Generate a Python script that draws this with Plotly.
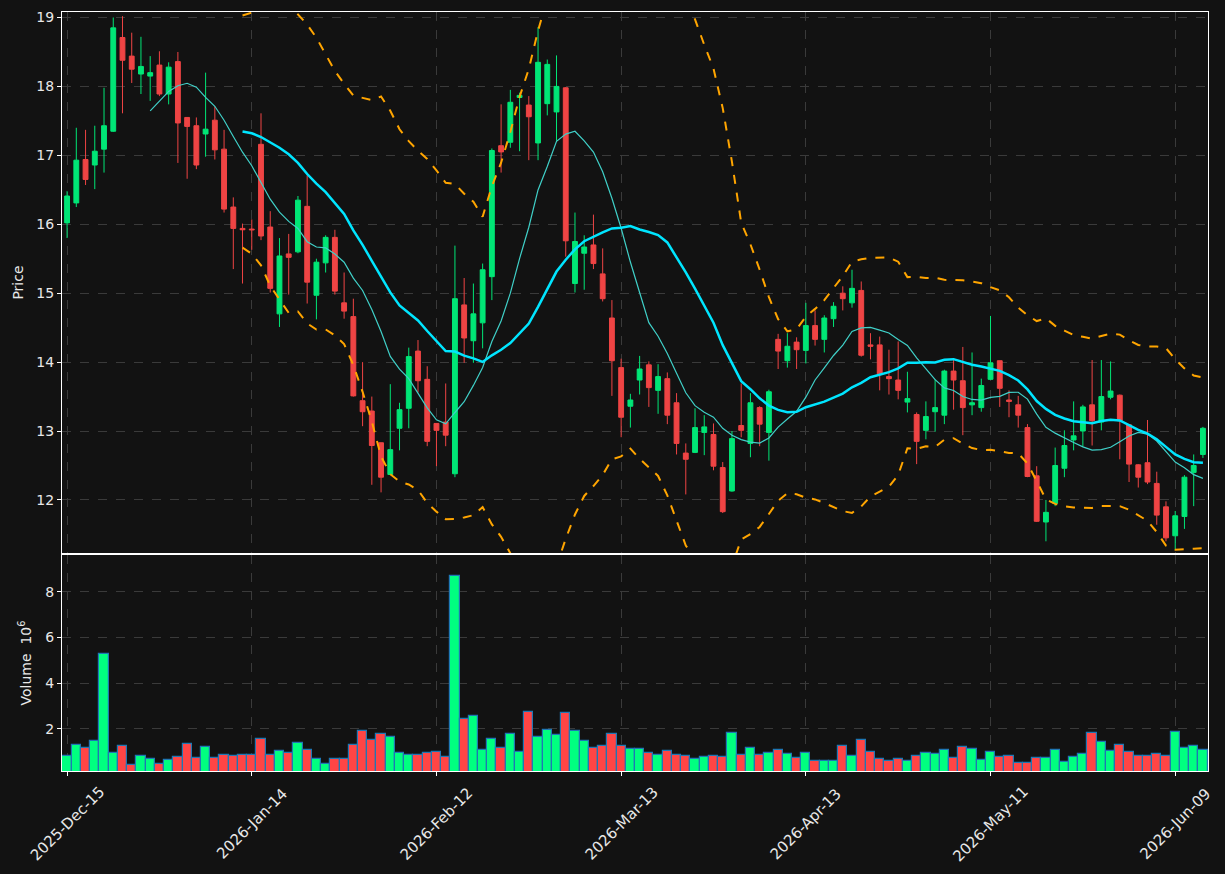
import pandas as pd
import plotly.graph_objects as go

holidays = ["2025-12-25", "2026-01-01", "2026-01-19", "2026-02-16", "2026-04-03", "2026-05-25"]
cbd = pd.offsets.CustomBusinessDay(holidays=holidays)
dates = pd.date_range(start="2025-12-15", periods=124, freq=cbd)
date_labels = [d.strftime("%Y-%m-%d") for d in dates]

opens = [16.02, 16.31, 16.94, 16.86, 17.09, 17.35, 18.71, 18.44, 18.18, 18.15,
         18.31, 17.89, 18.36, 17.55, 17.43, 17.31, 17.51, 17.09, 16.25, 15.94,
         15.93, 17.16, 15.96, 14.70, 15.57, 15.60, 16.26, 14.97, 15.44, 15.81,
         14.86, 14.66, 13.44, 13.29, 12.83, 12.37, 13.04, 13.33, 14.16, 13.75,
         13.11, 13.13, 12.38, 14.83, 14.31, 14.57, 15.24, 17.14, 17.19, 17.84,
         17.73, 17.18, 17.75, 17.63, 17.98, 15.14, 15.58, 15.70, 15.28, 14.64,
         13.92, 13.36, 13.74, 13.96, 13.59, 13.76, 13.41, 12.68, 12.69, 12.98,
         12.95, 12.47, 12.13, 13.08, 12.82, 13.34, 12.98, 14.33, 14.02, 14.29,
         14.17, 14.53, 14.33, 14.63, 15.00, 14.86, 15.04, 14.25, 14.25, 13.79,
         13.74, 13.42, 13.24, 13.01, 13.28, 13.23, 13.87, 13.73, 13.38, 13.34,
         13.75, 14.02, 13.45, 13.38, 13.05, 12.35, 11.68, 11.95, 12.46, 12.87,
         13.00, 13.38, 13.13, 13.49, 13.52, 13.09, 12.51, 12.54, 12.24, 11.90,
         11.48, 11.76, 12.40, 12.66]
highs = [16.48, 17.40, 17.37, 17.43, 17.98, 19.00, 19.02, 18.78, 18.72, 18.44,
         18.51, 18.35, 18.50, 17.55, 17.55, 18.20, 17.71, 17.37, 16.39, 16.01,
         16.07, 17.61, 16.19, 15.80, 15.86, 16.41, 16.71, 15.50, 15.84, 15.92,
         15.30, 14.92, 14.00, 13.50, 12.83, 13.68, 13.41, 14.21, 14.32, 13.94,
         13.11, 13.69, 15.69, 15.22, 15.14, 15.43, 17.10, 17.74, 17.95, 17.91,
         17.86, 18.86, 18.39, 18.45, 17.99, 16.17, 15.84, 16.14, 15.65, 14.90,
         14.05, 13.54, 14.09, 14.01, 13.97, 13.85, 13.55, 12.82, 13.33, 13.23,
         13.11, 12.55, 13.00, 13.69, 13.55, 13.36, 13.60, 14.41, 14.42, 14.36,
         14.86, 14.75, 14.68, 14.87, 15.10, 15.34, 15.17, 14.42, 14.37, 14.18,
         14.30, 13.86, 13.27, 13.43, 13.75, 13.89, 14.04, 14.22, 14.14, 13.76,
         14.67, 14.02, 13.59, 13.51, 13.10, 12.49, 12.00, 12.76, 13.01, 13.43,
         13.38, 14.03, 14.03, 14.01, 13.53, 13.10, 12.52, 13.16, 12.41, 11.98,
         11.84, 12.36, 12.66, 13.06]
lows = [15.80, 16.25, 16.57, 16.51, 16.75, 17.34, 17.61, 18.05, 17.89, 17.79,
        17.86, 17.74, 16.89, 16.66, 16.80, 16.98, 16.94, 16.17, 15.35, 15.14,
        15.63, 15.77, 15.01, 14.51, 14.98, 15.58, 14.85, 14.62, 15.30, 14.98,
        14.63, 13.50, 13.07, 12.22, 12.11, 12.36, 12.72, 13.04, 13.56, 12.78,
        12.49, 12.78, 12.33, 13.99, 13.99, 14.20, 14.90, 16.75, 17.11, 17.06,
        16.93, 16.93, 17.58, 17.21, 15.53, 15.01, 15.05, 15.35, 14.88, 13.51,
        12.91, 13.05, 13.53, 13.35, 13.25, 13.10, 12.66, 12.08, 12.68, 12.65,
        12.43, 11.81, 12.12, 12.91, 12.62, 12.78, 12.57, 13.90, 13.92, 13.90,
        13.98, 14.24, 14.14, 14.51, 14.75, 14.79, 14.08, 14.04, 13.59, 13.53,
        13.46, 13.27, 12.52, 12.88, 12.99, 13.10, 13.31, 12.94, 13.23, 13.28,
        13.74, 13.35, 13.20, 13.05, 12.33, 11.68, 11.40, 11.91, 12.33, 12.72,
        12.77, 12.79, 13.01, 13.46, 12.59, 12.26, 12.18, 12.23, 11.64, 11.40,
        11.28, 11.58, 11.91, 12.61]
closes = [16.41, 16.93, 16.65, 17.06, 17.43, 18.85, 18.38, 18.25, 18.29, 18.20,
          17.89, 18.28, 17.47, 17.42, 16.86, 17.38, 17.08, 16.22, 15.94, 15.92,
          15.92, 15.83, 15.07, 15.54, 15.52, 16.35, 15.16, 15.45, 15.81, 15.03,
          14.74, 13.51, 13.28, 12.79, 12.33, 12.73, 13.31, 14.08, 13.73, 12.85,
          13.01, 12.94, 14.92, 14.35, 14.70, 15.34, 17.07, 17.05, 17.77, 17.87,
          17.56, 18.35, 18.32, 18.00, 15.76, 15.75, 15.67, 15.43, 14.92, 14.02,
          13.20, 13.45, 13.90, 13.63, 13.79, 13.23, 12.82, 12.59, 13.05, 13.06,
          12.49, 11.83, 12.89, 13.01, 13.41, 13.10, 13.57, 14.16, 14.23, 14.18,
          14.53, 14.33, 14.64, 14.81, 14.92, 15.07, 14.10, 14.23, 13.83, 13.76,
          13.59, 13.47, 12.85, 13.21, 13.34, 13.87, 13.74, 13.34, 13.41, 13.66,
          13.99, 13.62, 13.43, 13.23, 12.34, 11.69, 11.82, 12.50, 12.79, 12.93,
          13.35, 13.15, 13.50, 13.58, 13.15, 12.52, 12.33, 12.26, 11.78, 11.45,
          11.77, 12.33, 12.50, 13.04]
volumes_m = [0.83, 1.30, 1.17, 1.48, 5.26, 0.96, 1.26, 0.43, 0.83, 0.70,
             0.48, 0.65, 0.78, 1.35, 0.74, 1.22, 0.74, 0.87, 0.83, 0.87,
             0.87, 1.57, 0.87, 1.04, 0.96, 1.39, 1.09, 0.70, 0.48, 0.70,
             0.70, 1.30, 1.91, 1.52, 1.78, 1.65, 0.96, 0.87, 0.87, 0.96,
             1.00, 0.78, 8.70, 2.43, 2.57, 1.09, 1.57, 1.17, 1.78, 1.00,
             2.74, 1.65, 1.96, 1.74, 2.70, 1.91, 1.48, 1.17, 1.26, 1.78,
             1.26, 1.13, 1.13, 0.96, 0.87, 1.04, 0.87, 0.83, 0.70, 0.78,
             0.83, 0.78, 1.83, 0.87, 1.17, 0.87, 0.96, 1.09, 0.91, 0.74,
             0.96, 0.61, 0.61, 0.61, 1.26, 0.83, 1.52, 1.00, 0.70, 0.61,
             0.70, 0.61, 0.83, 0.96, 0.91, 1.09, 0.74, 1.22, 1.13, 0.65,
             1.00, 0.78, 0.83, 0.52, 0.52, 0.74, 0.74, 1.09, 0.57, 0.78,
             0.91, 1.83, 1.43, 1.04, 1.30, 1.00, 0.83, 0.83, 0.91, 0.83,
             1.87, 1.17, 1.26, 1.09]

tick_idx = [0, 20, 40, 60, 80, 100, 120]
tick_vals = [date_labels[i] for i in tick_idx]
tick_text = [dates[i].strftime("%Y-%b-%d") for i in tick_idx]

UP_C = "#00e676"
DN_C = "#ef4444"
VUP_C = "#00ff80"
VDN_C = "#ff4545"
BG = "#121212"
GRID = "#3a3a3a"
FONT = "DejaVu Sans"
TXT = "#e8e8e8"

close_s = pd.Series(closes)
ma10 = close_s.rolling(10).mean()
ma20 = close_s.rolling(20).mean()
sd20 = close_s.rolling(20).std(ddof=0)
bb_up = ma20 + 2 * sd20
bb_dn = ma20 - 2 * sd20

fig = go.Figure()
fig.add_trace(go.Candlestick(
    x=date_labels, open=opens, high=highs, low=lows, close=closes,
    increasing=dict(line=dict(color=UP_C, width=1), fillcolor=UP_C),
    decreasing=dict(line=dict(color=DN_C, width=1), fillcolor=DN_C),
    whiskerwidth=0, xaxis="x", yaxis="y", showlegend=False))
fig.add_trace(go.Scatter(x=date_labels, y=bb_up, mode="lines",
                         line=dict(color="#ffa500", width=2, dash="dash"),
                         xaxis="x", yaxis="y", showlegend=False))
fig.add_trace(go.Scatter(x=date_labels, y=bb_dn, mode="lines",
                         line=dict(color="#ffa500", width=2, dash="dash"),
                         xaxis="x", yaxis="y", showlegend=False))
fig.add_trace(go.Scatter(x=date_labels, y=ma10, mode="lines",
                         line=dict(color="#40d0c8", width=1.2),
                         xaxis="x", yaxis="y", showlegend=False))
fig.add_trace(go.Scatter(x=date_labels, y=ma20, mode="lines",
                         line=dict(color="#00e5ff", width=2.5),
                         xaxis="x", yaxis="y", showlegend=False))

vcolors = [VUP_C if c >= o else VDN_C for o, c in zip(opens, closes)]
fig.add_trace(go.Bar(x=date_labels, y=volumes_m, marker=dict(color=vcolors,
                     line=dict(color="#1f77b4", width=1.2)),
                     width=1.0, xaxis="x2", yaxis="y2", showlegend=False))

axis_common = dict(showgrid=True, gridcolor=GRID, griddash="dash", gridwidth=1,
                   showline=True, mirror=True, linecolor="white", linewidth=1.3,
                   ticks="outside", tickcolor="white", ticklen=4,
                   tickfont=dict(family=FONT, size=14, color=TXT),
                   zeroline=False, automargin=False)
xr = [-0.55, 123.55]

# rotated date labels centred under their ticks (like matplotlib rotation=45)
annotations = [dict(x=tv, xref="x2", y=-0.0695, yref="paper", text=tt,
                    textangle=-45, showarrow=False, xanchor="center",
                    yanchor="middle", font=dict(family=FONT, size=15, color=TXT))
               for tv, tt in zip(tick_vals, tick_text)]

fig.update_layout(
    width=1225, height=874,
    margin=dict(l=62, r=17, t=12, b=103),
    paper_bgcolor=BG, plot_bgcolor=BG,
    font=dict(family=FONT, size=14, color=TXT),
    boxgap=0.25,
    xaxis=dict(type="category", domain=[0, 1], anchor="y", range=xr,
               tickvals=tick_vals, ticktext=tick_text, showticklabels=False,
               rangeslider=dict(visible=False), **axis_common),
    yaxis=dict(domain=[0.2872, 1], anchor="x", range=[11.23, 19.08],
               tickvals=[12, 13, 14, 15, 16, 17, 18, 19],
               title=dict(text="Price", standoff=9,
                          font=dict(family=FONT, size=14, color=TXT)),
               **axis_common),
    xaxis2=dict(type="category", domain=[0, 1], anchor="y2", range=xr,
                matches="x", tickvals=tick_vals, ticktext=tick_text,
                showticklabels=False, **axis_common),
    yaxis2=dict(domain=[0, 0.2846], anchor="x2", range=[0.16, 9.6],
                tickvals=[2, 4, 6, 8],
                title=dict(text="Volume  10<sup>6</sup>", standoff=10,
                           font=dict(family=FONT, size=14, color=TXT)),
                **axis_common),
    bargap=0,
    annotations=annotations,
)
fig.write_html("out.html")
